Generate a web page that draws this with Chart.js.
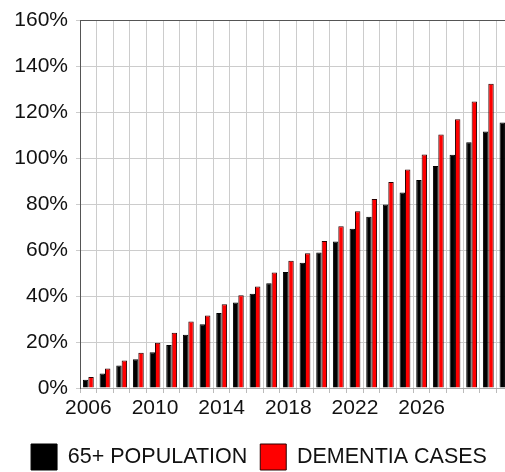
<!DOCTYPE html>
<html>
<head>
<meta charset="utf-8">
<script src="https://cdn.jsdelivr.net/npm/chart.js@4/dist/chart.umd.min.js"></script>
<style>
  html, body { margin: 0; padding: 0; background: #fff; overflow: hidden; }
  #wrap { width: 518px; height: 480px; }
</style>
</head>
<body>
<div id="wrap"><canvas id="c" width="518" height="480"></canvas></div>
<script>
const years = ['2006','2007','2008','2009','2010','2011','2012','2013','2014','2015','2016','2017','2018','2019','2020','2021','2022','2023','2024','2025','2026','2027','2028','2029','2030','2031'];
const shownYearTicks = ['2006','2010','2014','2018','2022','2026'];
const population65 = [3.6, 6.3, 9.8, 12.5, 15.6, 18.7, 23.2, 27.8, 32.7, 37.2, 41.0, 45.6, 50.5, 54.5, 59.0, 63.8, 69.4, 74.6, 79.9, 85.1, 90.6, 96.7, 101.6, 107.0, 111.7, 115.6];
const dementiaCases = [4.8, 8.5, 12.0, 15.4, 19.7, 24.1, 29.0, 31.6, 36.5, 40.4, 44.2, 50.3, 55.4, 58.7, 64.0, 70.4, 77.0, 82.3, 89.7, 95.2, 101.7, 110.4, 117.0, 124.8, 132.5, 141.1];
const seriesNames = ['65+ POPULATION', 'DEMENTIA CASES'];

const FONT = "'Liberation Sans', Arial, sans-serif";

new Chart(document.getElementById('c'), {
  type: 'bar',
  data: {
    labels: years,
    datasets: [
      { label: seriesNames[0], data: population65, backgroundColor: '#000000', borderColor: '#000000', borderWidth: 1, categoryPercentage: 0.65, barPercentage: 1.0 },
      { label: seriesNames[1], data: dementiaCases, backgroundColor: '#ff0000', borderColor: '#2a0000', borderWidth: 1, categoryPercentage: 0.65, barPercentage: 1.0 }
    ]
  },
  options: {
    responsive: false,
    animation: false,
    devicePixelRatio: 1,
    layout: { padding: { top: 19.3, left: 0, right: 0, bottom: 0 } },
    plugins: {
      tooltip: { enabled: false },
      legend: {
        position: 'bottom',
        labels: {
          boxWidth: 26,
          boxHeight: 26,
          padding: 13,
          color: '#111',
          font: { family: FONT, size: 21.5 }
        }
      }
    },
    scales: {
      x: {
        grid: { color: '#cccccc', offset: true, tickLength: 5, tickColor: '#bbbbbb' },
        border: { color: '#aaaaaa' },
        ticks: {
          autoSkip: false,
          maxRotation: 0,
          padding: 3,
          color: '#111',
          font: { family: FONT, size: 21 },
          callback: function(v, i) { const l = this.getLabelForValue(v); return shownYearTicks.includes(l) ? l : ''; }
        },
        afterFit: s => { s.height = 43; }
      },
      y: {
        min: 0, max: 160,
        grid: {
          color: ctx => (ctx.tick && ctx.tick.value === 160) ? '#555555' : '#cccccc',
          tickLength: 4,
          tickColor: '#cccccc'
        },
        border: { color: '#555555' },
        ticks: {
          stepSize: 10,
          padding: 8,
          color: '#111',
          font: { family: FONT, size: 21 },
          callback: v => (v % 20 === 0) ? v + '%' : ''
        },
        afterFit: s => { s.width = 80; }
      },
      yRight: {
        type: 'linear',
        position: 'right',
        display: true,
        grid: { display: false, drawTicks: false },
        border: { display: false },
        ticks: { display: false },
        afterFit: s => { s.width = 4.7; }
      }
    }
  }
});
</script>
</body>
</html>
